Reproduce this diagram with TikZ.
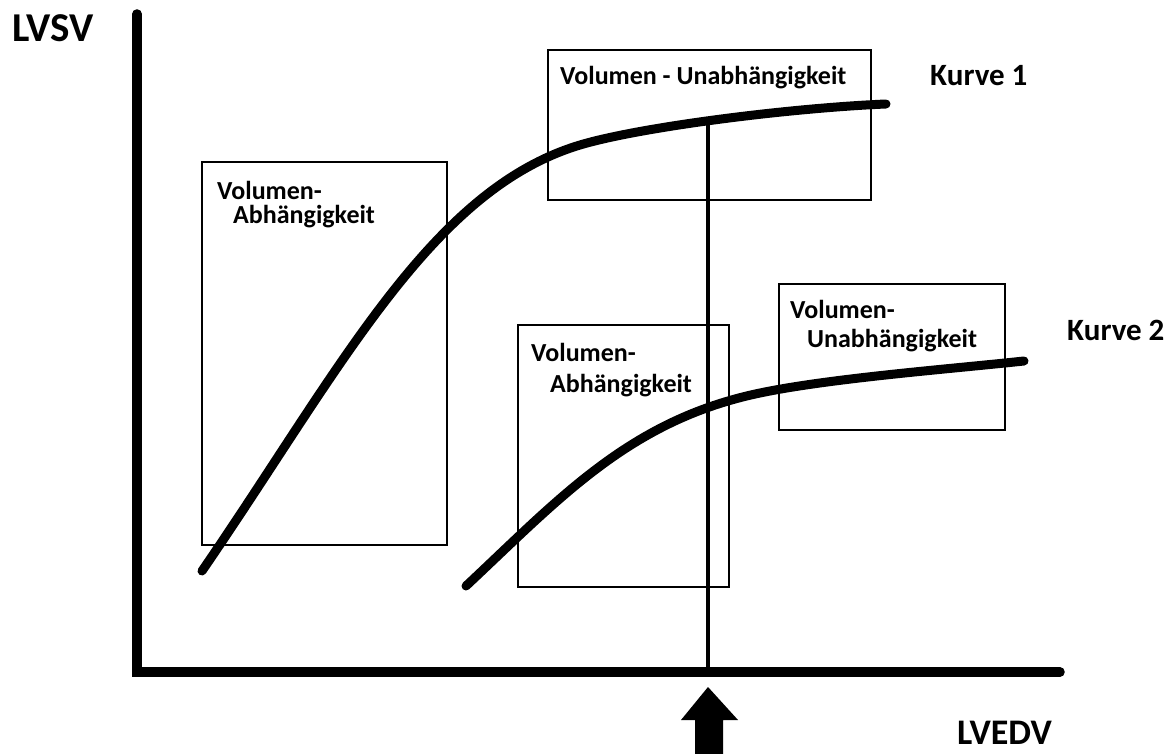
\documentclass[tikz,border=0pt]{standalone}
\usepackage{fontspec}
\setmainfont{Carlito}
\begin{document}
\begin{tikzpicture}[x=1pt,y=-1pt,
  lbl/.style={anchor=base west,inner sep=0pt,font=\bfseries\fontsize{26}{30}\selectfont},
  big/.style={anchor=base west,inner sep=0pt,font=\bfseries\fontsize{31}{34}\selectfont},
  axis/.style={line width=9.5pt,line cap=round,line join=miter},
  curve/.style={line width=9pt,line cap=round},
  frame/.style={draw,line width=1.2pt,inner sep=0pt}]
\useasboundingbox (0,0) rectangle (1173,754);
% boxes
\node[frame,minimum width=245pt,minimum height=383pt] (b1) at (324.5,353.5) {};
\node[frame,minimum width=323pt,minimum height=150pt] (b2) at (709.5,125) {};
\node[frame,minimum width=211pt,minimum height=262pt] (b3) at (623.5,456) {};
\node[frame,minimum width=226pt,minimum height=146pt] (b4) at (892,357) {};
% axes
\coordinate (ytop) at (137,14);
\coordinate (origin) at (137,672);
\coordinate (xend) at (1060,672);
\draw[axis] (ytop) -- (origin) -- (xend);
% curve 1
\draw[curve] (202,571) .. controls (340,370) and (430,190) .. (580,145)
                       .. controls (640,127) and (790,108) .. (886,104);
% curve 2
\draw[curve] (466,586) .. controls (560,498) and (630,420) .. (760,393)
                       .. controls (830,378.3) and (950,369) .. (1024,361);
% vertical line
\coordinate (k1) at (708,118);
\coordinate (xa) at (708,672);
\draw[line width=4.5pt] (k1) -- (xa);
% arrow
\fill (708,687) -- (738,720) -- (723,720) -- (723,754) -- (695,754) -- (695,720) -- (681,720) -- cycle;
% texts
\node[big,font=\bfseries\fontsize{41}{44}\selectfont] (lvsv) at (12,42) {LVSV};
\node[big,font=\bfseries\fontsize{36}{40}\selectfont] (lvedv) at (957,744) {LVEDV};
\node[big] (k1l) at (930,86) {Kurve 1};
\node[big] (k2l) at (1067,340) {Kurve 2};
\node[lbl] (t2) at (560,85) {Volumen - Unabhängigkeit};
\node[lbl] (t1a) at (217,200) {Volumen-};
\node[lbl] (t1b) at (233,224) {Abhängigkeit};
\node[lbl] (t3a) at (531,361) {Volumen-};
\node[lbl] (t3b) at (550,392) {Abhängigkeit};
\node[lbl] (t4a) at (790,318) {Volumen-};
\node[lbl] (t4b) at (807,347) {Unabhängigkeit};
\end{tikzpicture}
\end{document}
